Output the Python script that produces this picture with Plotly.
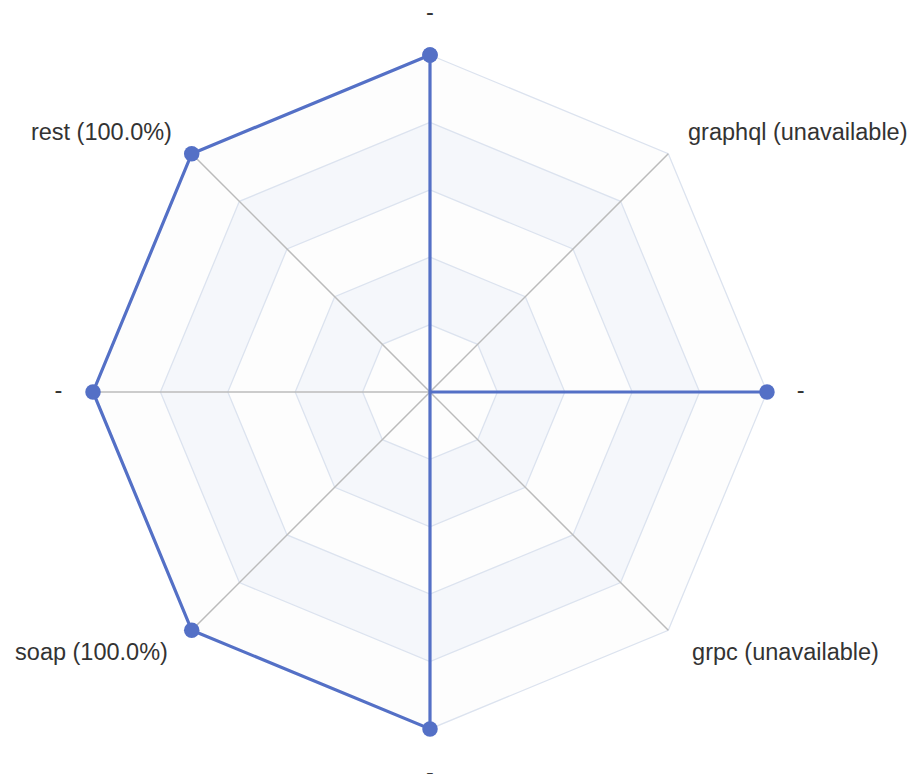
import plotly.graph_objects as go

axis_ids = ["a0", "a1", "a2", "a3", "a4", "a5", "a6", "a7"]
axis_labels = ["-", "graphql (unavailable)", "-", "grpc (unavailable)", "-",
               "soap (100.0%)", "-", "rest (100.0%)"]
values = [100, 0, 100, 0, 100, 100, 100, 100]
split_levels = [100, 80, 60, 40, 20]

# label placement (radial distance in axis units, anchor side)
label_r = [112.0, 108.3, 110, 110, 113.5, 110, 110.3, 108.3]
label_pos = ["middle center", "middle right", "middle center", "middle right",
             "middle center", "middle left", "middle center", "middle left"]
R_MAX = 113.5

SHADE = "#f5f7fb"
LIGHT = "#fdfdfd"
SPLIT = "#dce3ef"
SPOKE = "#bbbbbb"
BLUE = "#5470c6"

fig = go.Figure()

closed_ids = axis_ids + [axis_ids[0]]
for i, lvl in enumerate(split_levels):
    fig.add_trace(go.Scatterpolar(
        r=[lvl] * len(closed_ids), theta=closed_ids, mode="lines",
        fill="toself", fillcolor=LIGHT if i % 2 == 0 else SHADE,
        line=dict(color=SPLIT, width=1.3), hoverinfo="skip", showlegend=False))

spoke_r, spoke_t = [], []
for a in axis_ids:
    spoke_r += [0, 100, None]
    spoke_t += [a, a, a]
fig.add_trace(go.Scatterpolar(
    r=spoke_r, theta=spoke_t, mode="lines", connectgaps=False,
    line=dict(color=SPOKE, width=1.5), hoverinfo="skip", showlegend=False))

fig.add_trace(go.Scatterpolar(
    r=values + [values[0]], theta=closed_ids, mode="lines+markers",
    line=dict(color=BLUE, width=3.2), marker=dict(color=BLUE, size=15.5),
    cliponaxis=False, showlegend=False))

fig.add_trace(go.Scatterpolar(
    r=label_r, theta=axis_ids, mode="text", text=axis_labels,
    textposition=label_pos, cliponaxis=False,
    textfont=dict(family="Liberation Sans, Arial, sans-serif", size=23.5, color="#333333"),
    hoverinfo="skip", showlegend=False))

fig.update_layout(
    width=915, height=774,
    margin=dict(l=0, r=0, t=0, b=0),
    paper_bgcolor="white",
    font=dict(family="Liberation Sans, Arial, sans-serif", size=23.5, color="#333333"),
    polar=dict(
        domain=dict(x=[0.0432, 0.8792], y=[0.0097, 0.9981]),
        gridshape="linear",
        bgcolor="rgba(0,0,0,0)",
        radialaxis=dict(range=[0, R_MAX], visible=True, showticklabels=False,
                        ticks="", showline=False, showgrid=False),
        angularaxis=dict(type="category", categoryarray=axis_ids,
                         rotation=90, direction="clockwise",
                         showticklabels=False, ticks="",
                         showgrid=False, showline=False),
    ),
)

fig.write_html("out.html")
